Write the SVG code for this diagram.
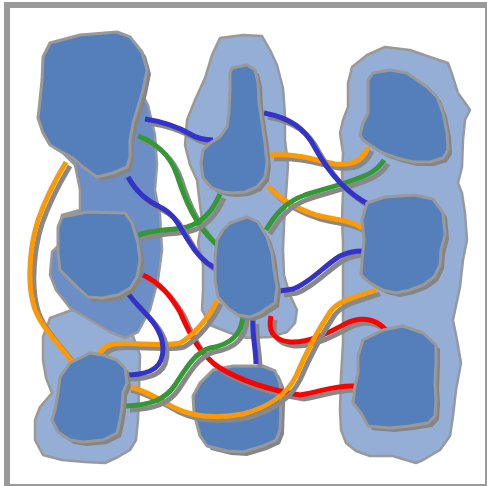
<svg xmlns="http://www.w3.org/2000/svg" xmlns:xlink="http://www.w3.org/1999/xlink" width="487" height="486" viewBox="0 0 487 486">
  <style>
    .frame { fill: #ffffff; stroke: #9a9a9a; stroke-width: 6; }
    .cluster { fill: #94aed5; stroke: #999999; stroke-width: 2.5; stroke-linejoin: round; }
    .cluster-inner { fill: #6a8ec5; stroke: #999999; stroke-width: 2.5; stroke-linejoin: round; }
    .node { fill: #557fba; stroke: #999999; stroke-width: 3; stroke-linejoin: round; }
    .node-shadow { fill: #858585; stroke: none; }
    .edge { fill: none; stroke-width: 5; stroke-linecap: butt; stroke-linejoin: round; }
    .edge-shadow { fill: none; stroke: #888888; stroke-width: 5; }
    .blue { stroke: #3333cc; }
    .green { stroke: #339933; }
    .orange { stroke: #ff9900; }
    .red { stroke: #ff0000; }
  </style>
  <defs>
    <path id="n1" d="M50,43 L80,35 L117,32 L130,37 L142,52 L147,70 L143,90 L138,107 L133,123 L130,140 L130,157 L127,167 L113,173 L97,177 L83,167 L73,158 L62,152 L50,145 L43,133 L38,118 L40,100 L42,80 L43,57 Z"/>
    <path id="n2" d="M62,217 L87,212 L125,213 L132,223 L138,243 L140,260 L137,277 L130,288 L118,295 L102,298 L88,297 L78,288 L68,278 L60,270 L58,253 L58,227 Z"/>
    <path id="n3" d="M70,363 L90,353 L103,355 L117,360 L125,368 L127,383 L123,392 L122,407 L120,420 L117,433 L103,440 L83,442 L70,440 L58,432 L52,420 L55,410 L58,393 L60,377 Z"/>
    <path id="n4" d="M232,68 L247,65 L255,70 L258,83 L259,103 L262,123 L265,143 L267,163 L265,177 L257,187 L245,192 L233,193 L223,192 L212,188 L203,178 L201,163 L203,150 L210,143 L220,137 L227,127 L229,113 L230,90 L230,73 Z"/>
    <path id="n5" d="M230,223 L247,217 L258,222 L267,237 L272,253 L274,270 L277,287 L275,303 L267,308 L260,313 L250,317 L238,315 L228,308 L218,297 L215,280 L215,257 L217,240 L223,230 Z"/>
    <path id="n6" d="M213,370 L233,366 L263,366 L275,371 L280,383 L281,400 L280,430 L276,440 L263,446 L243,452 L227,451 L207,446 L200,436 L194,413 L193,396 L200,383 Z"/>
    <path id="n7" d="M373,73 L390,70 L407,73 L427,87 L437,97 L443,113 L447,133 L448,150 L443,158 L430,162 L413,162 L397,158 L383,153 L373,147 L363,140 L360,135 L363,123 L368,113 L368,97 L368,80 Z"/>
    <path id="n8" d="M367,203 L385,197 L414,195 L433,199 L443,213 L445,235 L441,250 L440,265 L434,277 L423,285 L410,290 L396,293 L383,290 L370,283 L361,275 L362,260 L364,240 L362,220 Z"/>
    <path id="n9" d="M363,340 L383,330 L403,326 L423,333 L436,345 L436,363 L435,383 L436,400 L435,416 L428,423 L410,426 L390,428 L368,426 L361,413 L353,403 L355,386 L358,373 L358,356 Z"/>
  </defs>

  <rect class="frame" x="7" y="5" width="481" height="482"/>

  <!-- clusters -->
  <g id="clusters">
    <path id="cluster-right" class="cluster" d="M352,67 L367,55 L385,47 L410,50 L430,57 L448,63 L453,77 L458,93 L468,107 L470,110 L465,120 L463,140 L462,167 L458,183 L462,193 L465,213 L467,240 L463,260 L460,287 L453,320 L457,340 L461,363 L456,390 L453,416 L450,436 L440,450 L423,460 L416,463 L406,460 L393,456 L370,456 L356,451 L346,443 L341,430 L340,410 L341,376 L343,343 L343,310 L343,276 L343,243 L342,220 L343,190 L342,173 L343,153 L340,133 L343,120 L348,107 L348,83 Z"/>
    <path id="cluster-middle" class="cluster" d="M220,38 L243,35 L262,36 L270,50 L277,65 L283,88 L285,115 L285,140 L288,165 L286,195 L284,225 L283,250 L284,275 L290,295 L297,310 L295,323 L287,332 L270,337 L247,338 L230,333 L210,325 L202,310 L203,290 L203,265 L198,243 L202,220 L200,205 L197,180 L190,165 L185,145 L187,120 L195,100 L205,78 L212,55 Z"/>
    <path id="cluster-bottom-left" class="cluster" d="M50,318 L72,310 L95,318 L120,330 L133,336 L140,355 L139,390 L138,420 L136,440 L130,450 L118,457 L105,463 L85,462 L62,460 L43,455 L35,440 L35,420 L40,407 L52,393 L46,378 L43,360 L43,337 Z"/>
    <path id="cluster-left" class="cluster-inner" d="M60,150 L75,165 L80,190 L80,210 L62,215 L58,246 L52,252 L50,275 L56,290 L70,308 L90,320 L110,332 L125,338 L138,332 L150,310 L158,280 L162,250 L160,215 L155,190 L157,165 L155,135 L148,105 L140,90 L120,80 Z"/>
  </g>

  <!-- the bottom-middle node sits beneath the connectors that cross it -->
  <g id="node6"><use xlink:href="#n6" class="node-shadow" transform="translate(4,4)"/><use xlink:href="#n6" class="node"/></g>

  <!-- connectors -->
  <g id="connectors">
    <g id="e-r1"><path class="edge-shadow" transform="translate(4,4)" d="M143,275 C160,283 170,295 180,312 C190,335 200,355 220,368 C240,380 270,390 300,395 C320,392 335,385 354,386"/><path class="edge red" d="M143,275 C160,283 170,295 180,312 C190,335 200,355 220,368 C240,380 270,390 300,395 C320,392 335,385 354,386"/></g>
    <g id="e-r2"><path class="edge-shadow" transform="translate(4,4)" d="M271,316 C268,330 272,340 290,342 C310,343 330,332 345,324 C360,316 375,318 386,330"/><path class="edge red" d="M271,316 C268,330 272,340 290,342 C310,343 330,332 345,324 C360,316 375,318 386,330"/></g>
    <g id="e-o1"><path class="edge-shadow" transform="translate(4,4)" d="M66,162 C55,180 45,200 38,220 C30,245 27,280 33,303 C38,325 60,345 72,362"/><path class="edge orange" d="M66,162 C55,180 45,200 38,220 C30,245 27,280 33,303 C38,325 60,345 72,362"/></g>
    <g id="e-o2"><path class="edge-shadow" transform="translate(4,4)" d="M270,155 C295,153 315,160 335,164 C355,166 363,158 368,147"/><path class="edge orange" d="M270,155 C295,153 315,160 335,164 C355,166 363,158 368,147"/></g>
    <g id="e-o3"><path class="edge-shadow" transform="translate(4,4)" d="M268,186 C280,200 295,208 316,215 C335,220 350,220 362,228"/><path class="edge orange" d="M268,186 C280,200 295,208 316,215 C335,220 350,220 362,228"/></g>
    <g id="e-o4"><path class="edge-shadow" transform="translate(4,4)" d="M376,290 C355,297 338,300 330,312 C318,330 305,355 296,376 C285,398 265,408 243,414 C220,418 195,418 175,408 C160,400 145,390 127,386"/><path class="edge orange" d="M376,290 C355,297 338,300 330,312 C318,330 305,355 296,376 C285,398 265,408 243,414 C220,418 195,418 175,408 C160,400 145,390 127,386"/></g>
    <g id="e-o5"><path class="edge-shadow" transform="translate(4,4)" d="M217,300 C210,315 195,335 180,343 C165,347 130,342 113,344 C105,346 100,350 99,355"/><path class="edge orange" d="M217,300 C210,315 195,335 180,343 C165,347 130,342 113,344 C105,346 100,350 99,355"/></g>
    <g id="e-g1"><path class="edge-shadow" transform="translate(4,4)" d="M138,136 C155,142 170,155 177,175 C185,200 195,225 218,246"/><path class="edge green" d="M138,136 C155,142 170,155 177,175 C185,200 195,225 218,246"/></g>
    <g id="e-g2"><path class="edge-shadow" transform="translate(4,4)" d="M220,194 C214,208 205,222 187,227 C170,231 150,229 137,236"/><path class="edge green" d="M220,194 C214,208 205,222 187,227 C170,231 150,229 137,236"/></g>
    <g id="e-g3"><path class="edge-shadow" transform="translate(4,4)" d="M266,230 C275,215 285,202 305,195 C330,187 360,180 372,172 C378,168 381,165 384,160"/><path class="edge green" d="M266,230 C275,215 285,202 305,195 C330,187 360,180 372,172 C378,168 381,165 384,160"/></g>
    <g id="e-g4"><path class="edge-shadow" transform="translate(4,4)" d="M243,315 C242,335 230,345 210,348 C195,352 185,370 175,385 C165,400 150,405 126,406"/><path class="edge green" d="M243,315 C242,335 230,345 210,348 C195,352 185,370 175,385 C165,400 150,405 126,406"/></g>
    <g id="e-b1"><path class="edge-shadow" transform="translate(4,4)" d="M145,119 C165,122 180,128 190,134 C198,139 205,140 213,140"/><path class="edge blue" d="M145,119 C165,122 180,128 190,134 C198,139 205,140 213,140"/></g>
    <g id="e-b2"><path class="edge-shadow" transform="translate(4,4)" d="M128,177 C135,190 145,200 160,207 C175,214 180,228 188,240 C195,252 203,262 215,268"/><path class="edge blue" d="M128,177 C135,190 145,200 160,207 C175,214 180,228 188,240 C195,252 203,262 215,268"/></g>
    <g id="e-b3"><path class="edge-shadow" transform="translate(4,4)" d="M264,113 C290,118 305,128 315,148 C330,175 350,195 370,205"/><path class="edge blue" d="M264,113 C290,118 305,128 315,148 C330,175 350,195 370,205"/></g>
    <g id="e-b4"><path class="edge-shadow" transform="translate(4,4)" d="M280,291 L293,289 C310,283 325,265 340,256 C348,252 355,251 363,251"/><path class="edge blue" d="M280,291 L293,289 C310,283 325,265 340,256 C348,252 355,251 363,251"/></g>
    <g id="e-b5"><path class="edge-shadow" transform="translate(4,4)" d="M253,320 C252,335 256,350 256,364"/><path class="edge blue" d="M253,320 C252,335 256,350 256,364"/></g>
    <g id="e-b6"><path class="edge-shadow" transform="translate(4,4)" d="M128,293 C135,305 150,315 158,330 C166,345 165,365 150,371 C143,374 135,375 126,375"/><path class="edge blue" d="M128,293 C135,305 150,315 158,330 C166,345 165,365 150,371 C143,374 135,375 126,375"/></g>
  </g>

  <!-- nodes -->
  <g id="node1"><use xlink:href="#n1" class="node-shadow" transform="translate(4,4)"/><use xlink:href="#n1" class="node"/></g>
  <g id="node2"><use xlink:href="#n2" class="node-shadow" transform="translate(4,4)"/><use xlink:href="#n2" class="node"/></g>
  <g id="node3"><use xlink:href="#n3" class="node-shadow" transform="translate(4,4)"/><use xlink:href="#n3" class="node"/></g>
  <g id="node4"><use xlink:href="#n4" class="node-shadow" transform="translate(4,4)"/><use xlink:href="#n4" class="node"/></g>
  <g id="node5"><use xlink:href="#n5" class="node-shadow" transform="translate(4,4)"/><use xlink:href="#n5" class="node"/></g>
  <g id="node7"><use xlink:href="#n7" class="node-shadow" transform="translate(4,4)"/><use xlink:href="#n7" class="node"/></g>
  <g id="node8"><use xlink:href="#n8" class="node-shadow" transform="translate(4,4)"/><use xlink:href="#n8" class="node"/></g>
  <g id="node9"><use xlink:href="#n9" class="node-shadow" transform="translate(4,4)"/><use xlink:href="#n9" class="node"/></g>
</svg>
